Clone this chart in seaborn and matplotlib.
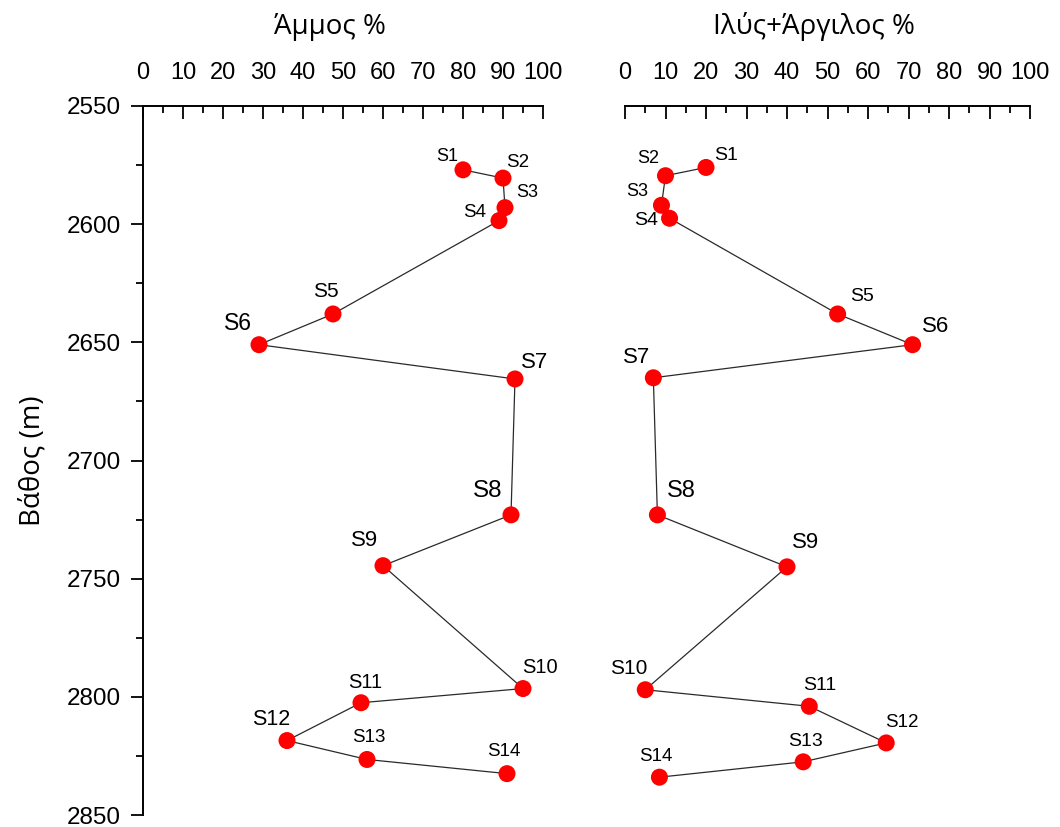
import matplotlib
matplotlib.use("Agg")
import matplotlib.pyplot as plt
import seaborn as sns
import pandas as pd
from matplotlib.ticker import MultipleLocator

sns.set_theme(style="white")
plt.rcParams['font.family'] = ['Liberation Sans', 'DejaVu Sans']
plt.rcParams.update({"text.color": "black", "axes.labelcolor": "black",
                     "xtick.color": "black", "ytick.color": "black"})

# ---------------- data ----------------
samples = ["S1", "S2", "S3", "S4", "S5", "S6", "S7", "S8", "S9", "S10", "S11", "S12", "S13", "S14"]
sand_pct = [80, 90, 90.5, 89, 47.5, 29, 93, 92, 60, 95, 54.5, 36, 56, 91]
sand_depth = [2577, 2580.5, 2593, 2598.5, 2638, 2651, 2665.5, 2723, 2744.5, 2796.5, 2802.5, 2818.5, 2826.5, 2832.5]
mud_pct = [20, 10, 9, 11, 52.5, 71, 7, 8, 40, 5, 45.5, 64.5, 44, 8.5]
mud_depth = [2576, 2579.5, 2592, 2597.5, 2638, 2651, 2665, 2723, 2745, 2797, 2804, 2819.5, 2827.5, 2834]
x_ticks = [0, 10, 20, 30, 40, 50, 60, 70, 80, 90, 100]
y_ticks = [2550, 2600, 2650, 2700, 2750, 2800, 2850]

# label offsets (pixels, x right / y up) and font sizes
sand_offsets = [(-16, 13), (15, 16), (22, 15), (-24, 8), (-7, 22), (-21, 21), (20, 16),
                (-23, 24), (-18, 25), (17, 21), (4, 20), (-16, 21), (2, 22), (-3, 22)]
mud_offsets = [(20, 12), (-17, 17), (-24, 14), (-23, -2), (24, 17), (23, 18), (-17, 20),
               (24, 24), (19, 24), (-17, 21), (10, 21), (16, 20), (2, 20), (-4, 21)]
sand_label_sizes = [13, 13.5, 13, 13.5, 15, 16.5, 16, 17.5, 16, 14.5, 14.5, 15.5, 13.5, 13.5]
mud_label_sizes = [14, 13, 13, 14, 14, 16, 16, 17, 16, 15, 14, 13.5, 14, 13.5]

sand_df = pd.DataFrame({"sample": samples, "pct": sand_pct, "depth": sand_depth})
mud_df = pd.DataFrame({"sample": samples, "pct": mud_pct, "depth": mud_depth})

fig = plt.figure(figsize=(10.6, 8.27), dpi=100)
TOP, BOT = 106, 815
ax1 = fig.add_axes([143 / 1060, 1 - BOT / 827, 400 / 1060, (BOT - TOP) / 827])
ax2 = fig.add_axes([625 / 1060, 1 - BOT / 827, 405 / 1060, (BOT - TOP) / 827])

PX2PT = 0.72
GREEK = ["Open Sans", "DejaVu Sans"]


def draw(ax, df, offsets, sizes, title):
    sns.lineplot(data=df, x="pct", y="depth", sort=False, estimator=None, ax=ax,
                 color="#2a2a2a", linewidth=0.9, zorder=2)
    sns.scatterplot(data=df, x="pct", y="depth", ax=ax, color="#ff0000", s=150,
                    edgecolor="none", zorder=3, clip_on=False)
    for (name, x, y), off, fs in zip(df[["sample", "pct", "depth"]].values, offsets, sizes):
        ax.annotate(name, (x, y), xytext=(off[0] * PX2PT, off[1] * PX2PT),
                    textcoords="offset points", ha="center", va="center",
                    fontsize=fs, color="black")
    ax.set_xlim(0, 100)
    ax.set_ylim(2850, 2550)
    ax.xaxis.tick_top()
    ax.set_xticks(x_ticks)
    ax.xaxis.set_minor_locator(MultipleLocator(5))
    ax.tick_params(axis="x", which="major", direction="in", length=9, width=1.3,
                   labelsize=17, pad=16, top=True, bottom=False, color="black",
                   labelcolor="black")
    ax.tick_params(axis="x", which="minor", direction="in", length=5, width=1.3,
                   top=True, bottom=False, color="black")
    ax.set_xlabel("")
    ax.set_title(title, fontsize=20, pad=52, x=0.4675, family=GREEK, color="black")
    for s in ["bottom", "right"]:
        ax.spines[s].set_visible(False)
    ax.spines["top"].set_linewidth(1.4)
    ax.spines["top"].set_color("black")
    ax.spines["left"].set_linewidth(1.4)
    ax.spines["left"].set_color("black")
    ax.grid(False)


draw(ax1, sand_df, sand_offsets, sand_label_sizes, "Άμμος %")
draw(ax2, mud_df, mud_offsets, mud_label_sizes, "Ιλύς+Άργιλος %")

ax1.set_yticks(y_ticks)
ax1.yaxis.set_minor_locator(MultipleLocator(25))
ax1.tick_params(axis="y", which="major", direction="out", length=9, width=1.3,
                labelsize=17.5, pad=7, left=True, color="black", labelcolor="black")
ax1.tick_params(axis="y", which="minor", direction="out", length=5, width=1.3,
                left=True, color="black")
ax1.set_ylabel("Βάθος (m)", fontsize=20, labelpad=14, family=GREEK, color="black")

ax2.spines["left"].set_visible(False)
ax2.set_yticks([])
ax2.set_ylabel("")

fig.savefig("out.png", dpi=100, facecolor="white")
